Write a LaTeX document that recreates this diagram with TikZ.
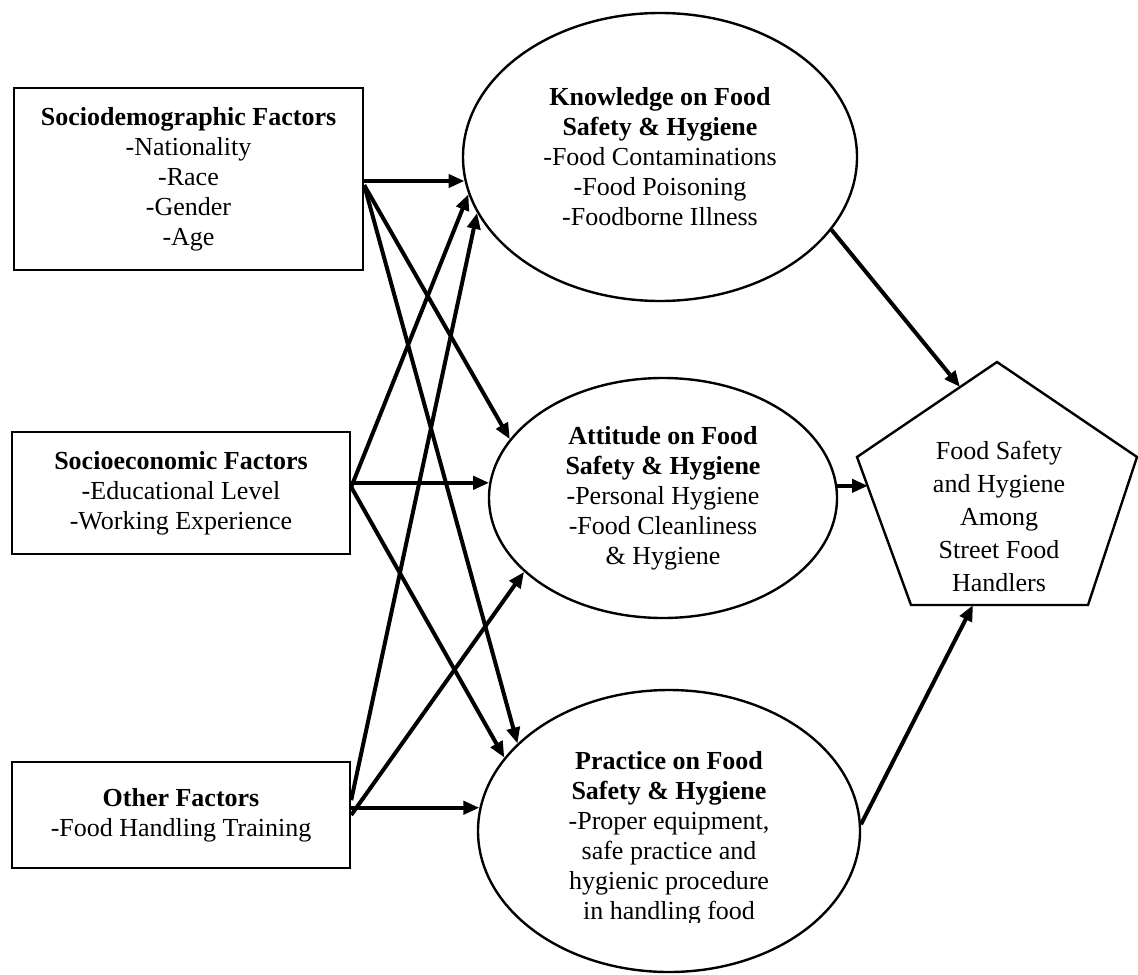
\documentclass[tikz,border=0pt]{standalone}
\usepackage{fontspec}
\setmainfont{Liberation Serif}
\usetikzlibrary{shapes.geometric,arrows.meta}
\begin{document}
\begin{tikzpicture}[x=0.5pt,y=-0.5pt,font=\fontsize{13}{15}\selectfont,
  fbox/.style={draw,line width=1.2pt,rectangle,inner sep=0pt,align=center},
  fell/.style={draw,line width=1.2pt,ellipse,inner sep=0pt,align=center},
  farr/.style={draw,line width=2pt,-{Triangle[length=8pt,width=6.5pt]}}]
\useasboundingbox (0,0) rectangle (1138,974);
\node[fbox,minimum width=174.5pt,minimum height=91pt] (1) at (188.5,179) {\textbf{Sociodemographic Factors}\\-Nationality\\-Race\\-Gender\\-Age};
\node[fbox,minimum width=169pt,minimum height=61pt] (2) at (181,493) {\textbf{Socioeconomic Factors}\\-Educational Level\\-Working Experience};
\node[fbox,minimum width=169pt,minimum height=53pt] (3) at (181,815) {\textbf{Other Factors}\\-Food Handling Training};
\node[fell,minimum width=197pt,minimum height=144pt] (4) at (660,157) {\textbf{Knowledge on Food}\\\textbf{Safety \& Hygiene}\\-Food Contaminations\\-Food Poisoning\\-Foodborne Illness};
\node[fell,minimum width=174pt,minimum height=120pt] (5) at (663,498) {\textbf{Attitude on Food}\\\textbf{Safety \& Hygiene}\\-Personal Hygiene\\-Food Cleanliness\\\& Hygiene};
\node[fell,minimum width=191pt,minimum height=141pt] (6) at (669,831) {};
\begin{scope}
\clip (470,690) rectangle (868,922);
\node[align=center] (6t) at (669,838) {\textbf{Practice on Food}\\\textbf{Safety \& Hygiene}\\-Proper equipment,\\safe practice and\\hygienic procedure\\in handling food};
\end{scope}
\draw[line width=1.2pt] (997,362) -- (1137,457) -- (1088,605) -- (911,605) -- (857,457) -- cycle;
\node[align=center,font=\fontsize{13}{16.5}\selectfont] (7) at (999,516) {Food Safety\\and Hygiene\\Among\\Street Food\\Handlers};
\coordinate (7a) at (960,387);
\coordinate (7b) at (868,487);
\coordinate (7c) at (973,605);

\path[farr] (1.east |- 4.187.6) -- (4.187.6);
\path[farr] (1.-2.6) -- (5.159.1);
\path[farr] (1.-2.6) -- (6.150.2);
\path[farr] (2.east |- 5.175.7) -- (5.175.7);
\path[farr] (2.2) -- (4.191.5);
\path[farr] (2.2) -- (6.156);
\path[farr] (3.east |- 6.173) -- (6.173);
\path[farr] (3.5) -- (4.197.4);
\path[farr] (3.-0.7) -- (5.208.9);
\path[farr] (4.-23) -- (7a);
\path[farr] (5.4) -- (5.4 -| 7b);
\path[farr] (6.2) -- (7c);
\end{tikzpicture}
\end{document}
